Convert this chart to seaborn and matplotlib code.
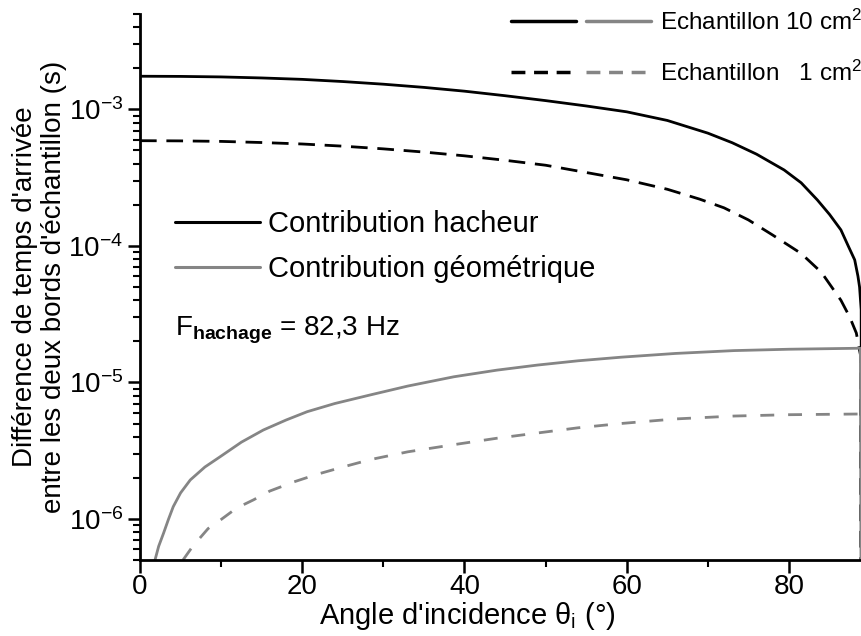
import numpy as np
import pandas as pd
import matplotlib
matplotlib.use("Agg")
import matplotlib.pyplot as plt
import seaborn as sns
from matplotlib.lines import Line2D
from matplotlib.legend_handler import HandlerTuple

# values (angle in degrees, time difference in s)
theta_hach = [0, 5, 10, 15, 20, 25, 30, 35, 40, 45, 50, 55, 60, 65, 70, 73, 76,
              79.4, 81.5, 83.5, 85, 86.4, 87.3, 88.1, 88.5, 88.7, 88.9, 88.95]
hach_10 = [1.75e-3, 1.745e-3, 1.73e-3, 1.70e-3, 1.66e-3, 1.60e-3, 1.53e-3, 1.45e-3,
           1.36e-3, 1.26e-3, 1.16e-3, 1.06e-3, 9.6e-4, 8.3e-4, 6.7e-4, 5.7e-4, 4.7e-4,
           3.6e-4, 2.9e-4, 2.17e-4, 1.7e-4, 1.31e-4, 1.0e-4, 7.9e-5, 6.0e-5, 5.0e-5,
           3.4e-5, 1e-8]

theta_hach1 = [0, 5, 10, 15, 20, 25, 30, 35, 40, 45, 50, 55, 60, 65, 69, 72, 75, 78,
               81.5, 84, 86.4, 87.5, 88.3, 88.8, 88.9]
hach_1 = [5.9e-4, 5.88e-4, 5.83e-4, 5.72e-4, 5.58e-4, 5.38e-4, 5.14e-4, 4.87e-4,
          4.57e-4, 4.24e-4, 3.9e-4, 3.45e-4, 3.05e-4, 2.6e-4, 2.2e-4, 1.9e-4, 1.55e-4,
          1.2e-4, 8.8e-5, 6.4e-5, 4.0e-5, 3.0e-5, 2.3e-5, 1.6e-5, 1e-8]

theta_geo = [1.85, 2.3, 2.9, 3.5, 4.1, 5, 6.2, 8, 9.9, 12.5, 15.2, 18, 20.6, 24, 28.4,
             33, 38.7, 44, 49, 54, 59.3, 66, 73.2, 80, 88.8, 88.95]
geo_10 = [5e-7, 6.3e-7, 7.85e-7, 9.9e-7, 1.23e-6, 1.55e-6, 1.93e-6, 2.4e-6, 2.86e-6,
          3.65e-6, 4.48e-6, 5.3e-6, 6.1e-6, 7.0e-6, 8.1e-6, 9.4e-6, 1.10e-5, 1.23e-5,
          1.34e-5, 1.44e-5, 1.53e-5, 1.63e-5, 1.71e-5, 1.75e-5, 1.78e-5, 1e-8]

theta_geo1 = [5.3, 6.5, 8.4, 10, 11.9, 14, 16, 19, 21.8, 25, 28.4, 33, 38.7, 44, 49,
              54, 59.3, 66, 73.2, 80, 88.8]
geo_1 = [5e-7, 6.3e-7, 8.5e-7, 9.9e-7, 1.2e-6, 1.38e-6, 1.6e-6, 1.87e-6, 2.12e-6,
         2.4e-6, 2.72e-6, 3.1e-6, 3.5e-6, 3.9e-6, 4.26e-6, 4.65e-6, 5.0e-6, 5.4e-6,
         5.67e-6, 5.8e-6, 5.87e-6]

x_ticks = [0, 20, 40, 60, 80]

sns.set_style("ticks")
plt.rcParams["font.family"] = ["Liberation Sans", "DejaVu Sans"]
plt.rcParams["mathtext.fontset"] = "custom"
plt.rcParams["mathtext.rm"] = "Liberation Sans"
plt.rcParams["mathtext.it"] = "Liberation Sans:italic"
plt.rcParams["mathtext.bf"] = "Liberation Sans:bold"
for k in ["text.color", "axes.labelcolor", "xtick.color", "ytick.color", "axes.edgecolor"]:
    plt.rcParams[k] = "black"

BLACK = "#000000"
GREY = "#858585"

fig = plt.figure(figsize=(8.62, 6.36), dpi=100)
ax = fig.add_axes([140 / 862, 76 / 636, 722 / 862, 546 / 636])
ax.set_yscale("log")

sns.lineplot(x=theta_hach, y=hach_10, ax=ax, color=BLACK, lw=2.0, sort=False, errorbar=None)
sns.lineplot(x=theta_hach1, y=hach_1, ax=ax, color=BLACK, lw=2.0, sort=False, errorbar=None,
             linestyle=(0, (6, 3.5)))
sns.lineplot(x=theta_geo, y=geo_10, ax=ax, color=GREY, lw=2.0, sort=False, errorbar=None)
sns.lineplot(x=theta_geo1, y=geo_1, ax=ax, color=GREY, lw=2.0, sort=False, errorbar=None,
             linestyle=(0, (5, 5)))

ax.set_xlim(0, 89)
ax.set_ylim(5e-7, 5e-3)
ax.set_xticks(x_ticks)
ax.xaxis.set_minor_locator(matplotlib.ticker.MultipleLocator(10))
ax.yaxis.set_major_locator(matplotlib.ticker.LogLocator(base=10, numticks=10))
ax.yaxis.set_minor_locator(matplotlib.ticker.LogLocator(base=10, subs=np.arange(2, 10), numticks=20))
ax.yaxis.set_minor_formatter(matplotlib.ticker.NullFormatter())

ax.tick_params(which="major", direction="out", length=9, width=1.8, labelsize=20)
ax.tick_params(axis="x", which="major", pad=1)
ax.tick_params(axis="y", which="major", pad=3)
ax.tick_params(which="minor", direction="out", length=5, width=1.5)
for s in ["top", "right"]:
    ax.spines[s].set_visible(False)
for s in ["left", "bottom"]:
    ax.spines[s].set_linewidth(2)

ax.set_xlabel("Angle d'incidence θ$_{\\mathrm{i}}$ (°)", fontsize=21)
ax.xaxis.set_label_coords(0.454, -0.074)
ax.set_ylabel("Différence de temps d'arrivée\nentre les deux bords d'échantillon (s)",
              fontsize=20, labelpad=1, linespacing=1.15)

# sample size legend (top right)
b_sol = Line2D([], [], color=BLACK, lw=2.5)
g_sol = Line2D([], [], color=GREY, lw=2.5)
b_das = Line2D([], [], color=BLACK, lw=2.5, linestyle=(0, (4, 2.5)))
g_das = Line2D([], [], color=GREY, lw=2.5, linestyle=(0, (4, 2.5)))
leg1 = ax.legend([(b_sol, g_sol), (b_das, g_das)],
                 ["Echantillon 10 cm$^{2}$", "Echantillon   1 cm$^{2}$"],
                 handler_map={tuple: HandlerTuple(ndivide=None, pad=0.4)},
                 loc="upper right", bbox_to_anchor=(1.0, 1.008), frameon=False,
                 fontsize=17.5, handlelength=5.76, handletextpad=0.35, labelspacing=1.05,
                 borderpad=0, borderaxespad=0)
ax.add_artist(leg1)

# contribution legend
c_h = Line2D([], [], color=BLACK, lw=2.2)
c_g = Line2D([], [], color=GREY, lw=2.2)
ax.legend([c_h, c_g], ["Contribution hacheur", "Contribution géométrique"],
          loc="upper left", bbox_to_anchor=(35 / 722, (560 - 210) / 546), frameon=False,
          fontsize=21, handlelength=2.9, handletextpad=0.3, labelspacing=0.6,
          borderpad=0, borderaxespad=0)

ax.text(4.3, 2.2e-5, "F$_{\\mathbf{hachage}}$ = 82,3 Hz", fontsize=20, va="baseline", ha="left")

fig.savefig("out.png", dpi=100)
